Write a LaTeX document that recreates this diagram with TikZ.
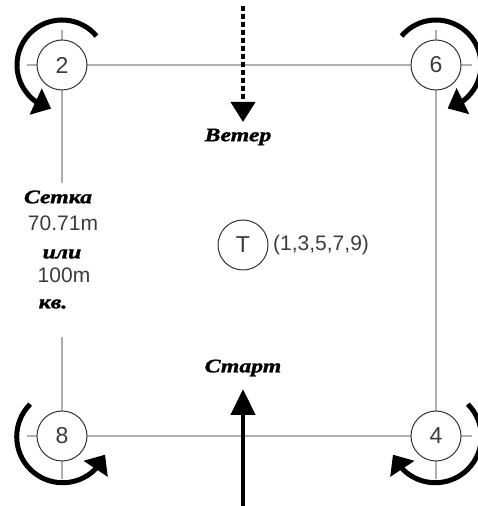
\documentclass[tikz,border=0pt]{standalone}
\usepackage{fontspec}
\setmainfont{Liberation Serif}
\newfontfamily\sansf{Liberation Sans}
\newfontfamily\rufont[FakeStretch=1.25,FakeBold=1.5]{Liberation Serif}
\usetikzlibrary{arrows.meta,bending}
\definecolor{gridgray}{RGB}{175,175,175}
\definecolor{ringgray}{RGB}{50,50,50}
\definecolor{numgray}{RGB}{60,60,60}
\tikzset{
  gridline/.style={draw=gridgray, line width=1.2pt},
  buoy/.style={circle, draw=ringgray, line width=1pt, fill=white, minimum size=50pt, inner sep=0pt, font=\sansf\fontsize{23}{23}\selectfont, text=numgray},
  turn/.style={line width=5pt, -{Triangle[length=17pt,width=28pt]}},
  rulab/.style={font=\rufont\bfseries\itshape\fontsize{19}{19}\selectfont, inner sep=0pt},
  numlab/.style={font=\sansf\fontsize{21}{21}\selectfont, text=numgray, inner sep=0pt},
}
\begin{document}
\begin{tikzpicture}[x=1pt,y=1pt]
\useasboundingbox (0,0) rectangle (478,506);
% grid lines
\coordinate (tl) at (27,441); \coordinate (tr) at (472,441);
\coordinate (bl) at (27,70);  \coordinate (br) at (472,70);
\coordinate (lt) at (62,476); \coordinate (lm1) at (62,323);
\coordinate (lm2) at (62,169); \coordinate (lb) at (62,27);
\coordinate (rt) at (436,476); \coordinate (rb) at (436,27);
\draw[gridline] (tl) -- (tr);
\draw[gridline] (bl) -- (br);
\draw[gridline] (lt) -- (lm1);
\draw[gridline] (lm2) -- (lb);
\draw[gridline] (rt) -- (rb);
% buoys
\node[buoy] (b2) at (62,441) {2};
\node[buoy] (b6) at (436,441) {6};
\node[buoy] (b8) at (62,70) {8};
\node[buoy] (b4) at (436,70) {4};
\node[buoy] (bt) at (243,261) {T};
\node[numlab, anchor=west] (seq) at (273,261) {(1,3,5,7,9)};
% turn arrows
\draw[turn] ([shift={(40:45)}]b2.center) arc[start angle=40, end angle=256, radius=45];
\draw[turn] ([shift={(140:45)}]b6.center) arc[start angle=140, end angle=-75, radius=45];
\draw[turn] ([shift={(135:45)}]b8.center) arc[start angle=135, end angle=337, radius=46];
\draw[turn] ([shift={(45:45)}]b4.center) arc[start angle=45, end angle=-157, radius=46];
% wind
\coordinate (wtop) at (243,500);
\coordinate (wtip) at (243,384);
\draw[line width=4pt, dash pattern=on 5pt off 3pt, -{Triangle[length=20pt,width=24pt]}] (wtop) -- (wtip);
\node[rulab] (wind) at (238,369) {Ветер};
% start
\coordinate (sbot) at (243,0);
\coordinate (stip) at (243,117);
\draw[line width=4.5pt, -{Triangle[length=26pt,width=24pt]}] (sbot) -- (stip);
\node[rulab] (start) at (243,138) {Старт};
% grid label
\node[rulab] (setka) at (58,309) {Сетка};
\node[numlab] (d1) at (63,283) {70.71m};
\node[rulab] (ili) at (62,252) {или};
\node[numlab] (d2) at (64,231) {100m};
\node[rulab] (kv) at (53,202) {кв.};
\end{tikzpicture}
\end{document}
